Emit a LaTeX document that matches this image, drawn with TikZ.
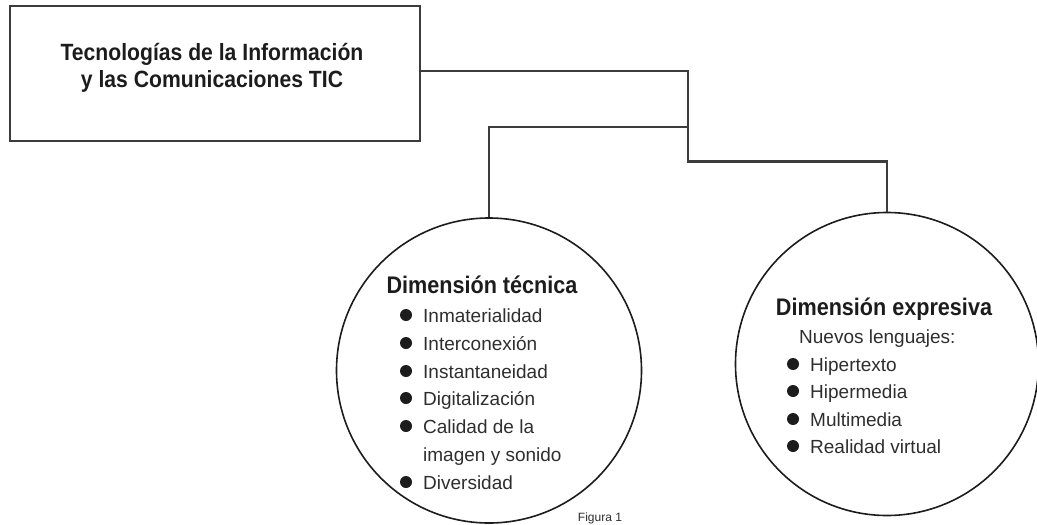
\documentclass[tikz,border=0pt]{standalone}
\usepackage{fontspec}
\setmainfont{Liberation Sans}
\newfontfamily\headfont[FakeStretch=0.9]{Liberation Sans}
\definecolor{linegray}{HTML}{3C3C3C}
\definecolor{ink}{HTML}{1C1C1C}
\definecolor{itemink}{HTML}{2E2E2E}
\tikzset{
  titlebox/.style={draw=linegray, line width=2pt, rectangle, minimum width=410pt, minimum height=135pt, inner sep=0pt},
  conn/.style={draw=linegray, line width=2.2pt},
  dimcircle/.style={draw=ink, line width=1.6pt, circle, inner sep=0pt},
  headtxt/.style={anchor=base, inner sep=0pt, text=ink, font=\headfont\bfseries\fontsize{24}{27}\selectfont},
  titletxt/.style={anchor=base, inner sep=0pt, text=ink, align=center, font=\headfont\bfseries\fontsize{23.5}{27}\selectfont},
  itemtxt/.style={anchor=base west, inner sep=0pt, text=itemink, font=\fontsize{19}{22}\selectfont},
  bul/.style={circle, fill=ink, minimum size=12pt, inner sep=0pt},
  captxt/.style={anchor=base, inner sep=0pt, text=itemink, font=\fontsize{12}{14}\selectfont}
}
\begin{document}
\begin{tikzpicture}[x=1pt,y=-1pt]
\useasboundingbox (0,0) rectangle (1037,525);
% title box
\node[titlebox] (tic) at (215,73.5) {};
\node[titletxt] (t1) at (212,60) {Tecnologías de la Información};
\node[titletxt] (t2) at (212,87) {y las Comunicaciones TIC};
% circles
\node[dimcircle, minimum size=305pt] (dtec) at (489,370.5) {};
\node[dimcircle, minimum size=303pt] (dexp) at (887,364) {};
% connectors
\coordinate (j1) at (688,71);
\coordinate (j2) at (688,127);
\coordinate (j3) at (688,161.5);
\draw[conn] (tic.east |- j1) -- (j1) -- (j3) -| (dexp.north);
\draw[conn] (j2) -| (dtec.north);
% left circle text
\node[headtxt] (h1) at (482,293) {Dimensión técnica};
\node[bul] (a1) at (406,315) {};
\node[itemtxt] (i1) at (423,322) {Inmaterialidad};
\node[bul] (a2) at (406,343) {};
\node[itemtxt] (i2) at (423,350) {Interconexión};
\node[bul] (a3) at (406,371) {};
\node[itemtxt] (i3) at (423,378) {Instantaneidad};
\node[bul] (a4) at (406,398) {};
\node[itemtxt] (i4) at (423,405) {Digitalización};
\node[bul] (a5) at (406,426) {};
\node[itemtxt] (i5) at (423,433) {Calidad de la};
\node[itemtxt] (i6) at (423,461) {imagen y sonido};
\node[bul] (a7) at (406,482) {};
\node[itemtxt] (i7) at (423,489) {Diversidad};
% right circle text
\node[headtxt] (h2) at (884,315) {Dimensión expresiva};
\node[itemtxt] (n0) at (799,343) {Nuevos lenguajes:};
\node[bul] (b1) at (793,364) {};
\node[itemtxt] (n1) at (810,371) {Hipertexto};
\node[bul] (b2) at (793,391) {};
\node[itemtxt] (n2) at (810,398) {Hipermedia};
\node[bul] (b3) at (793,419) {};
\node[itemtxt] (n3) at (810,426) {Multimedia};
\node[bul] (b4) at (793,446) {};
\node[itemtxt] (n4) at (810,453) {Realidad virtual};
% caption
\node[captxt] (fig) at (600,521) {Figura 1};
\end{tikzpicture}
\end{document}
